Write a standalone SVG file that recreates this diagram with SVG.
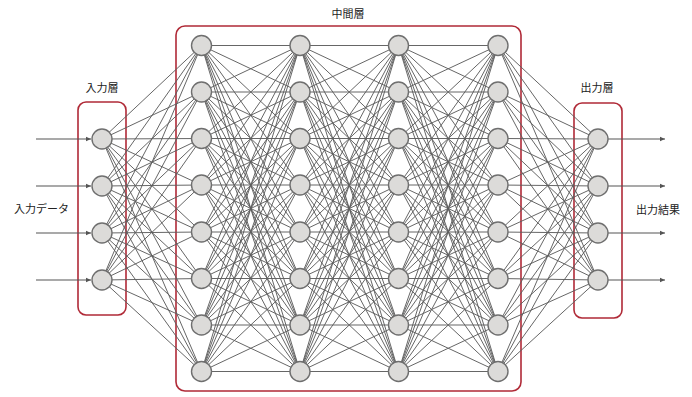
<svg xmlns="http://www.w3.org/2000/svg" width="692" height="397" viewBox="0 0 692 397">
<defs>
<marker id="arr" markerWidth="6" markerHeight="6" refX="5" refY="3" orient="auto" markerUnits="userSpaceOnUse"><path d="M0,0.8 L5,3 L0,5.2 Z" fill="#555"/></marker>
</defs>
<style>
.box{fill:none;stroke:#b02a37;stroke-width:1.6}
.n{fill:#dcdbd9;stroke:#6f6f6f;stroke-width:1.4}
.c{fill:none;stroke:#5e5e5e;stroke-width:0.95}
.io{fill:none;stroke:#555;stroke-width:1.1;marker-end:url(#arr)}
.t{font-family:"Noto Sans CJK JP","Noto Sans",sans-serif;font-size:11px;fill:#222}
</style>
<rect width="692" height="397" fill="#fff"/>
<g id="boxes">
<rect class="box" x="78" y="102" width="48" height="213" rx="8"/>
<rect class="box" x="176" y="26" width="345" height="365" rx="9"/>
<rect class="box" x="574" y="103" width="48" height="215" rx="8"/>
</g>
<g id="connectors">
<path class="c" d="M102 139L201.5 45.5M102 139L201.5 92M102 139L201.5 138.5M102 139L201.5 185M102 139L201.5 232M102 139L201.5 278.5M102 139L201.5 325M102 139L201.5 371.5
M102 186L201.5 45.5M102 186L201.5 92M102 186L201.5 138.5M102 186L201.5 185M102 186L201.5 232M102 186L201.5 278.5M102 186L201.5 325M102 186L201.5 371.5
M102 233L201.5 45.5M102 233L201.5 92M102 233L201.5 138.5M102 233L201.5 185M102 233L201.5 232M102 233L201.5 278.5M102 233L201.5 325M102 233L201.5 371.5
M102 280L201.5 45.5M102 280L201.5 92M102 280L201.5 138.5M102 280L201.5 185M102 280L201.5 232M102 280L201.5 278.5M102 280L201.5 325M102 280L201.5 371.5"/>
<path class="c" d="M201.5 45.5L300 45.5M201.5 45.5L300 92M201.5 45.5L300 138.5M201.5 45.5L300 185M201.5 45.5L300 232M201.5 45.5L300 278.5M201.5 45.5L300 325M201.5 45.5L300 371.5
M201.5 92L300 45.5M201.5 92L300 92M201.5 92L300 138.5M201.5 92L300 185M201.5 92L300 232M201.5 92L300 278.5M201.5 92L300 325M201.5 92L300 371.5
M201.5 138.5L300 45.5M201.5 138.5L300 92M201.5 138.5L300 138.5M201.5 138.5L300 185M201.5 138.5L300 232M201.5 138.5L300 278.5M201.5 138.5L300 325M201.5 138.5L300 371.5
M201.5 185L300 45.5M201.5 185L300 92M201.5 185L300 138.5M201.5 185L300 185M201.5 185L300 232M201.5 185L300 278.5M201.5 185L300 325M201.5 185L300 371.5
M201.5 232L300 45.5M201.5 232L300 92M201.5 232L300 138.5M201.5 232L300 185M201.5 232L300 232M201.5 232L300 278.5M201.5 232L300 325M201.5 232L300 371.5
M201.5 278.5L300 45.5M201.5 278.5L300 92M201.5 278.5L300 138.5M201.5 278.5L300 185M201.5 278.5L300 232M201.5 278.5L300 278.5M201.5 278.5L300 325M201.5 278.5L300 371.5
M201.5 325L300 45.5M201.5 325L300 92M201.5 325L300 138.5M201.5 325L300 185M201.5 325L300 232M201.5 325L300 278.5M201.5 325L300 325M201.5 325L300 371.5
M201.5 371.5L300 45.5M201.5 371.5L300 92M201.5 371.5L300 138.5M201.5 371.5L300 185M201.5 371.5L300 232M201.5 371.5L300 278.5M201.5 371.5L300 325M201.5 371.5L300 371.5"/>
<path class="c" d="M300 45.5L398.5 45.5M300 45.5L398.5 92M300 45.5L398.5 138.5M300 45.5L398.5 185M300 45.5L398.5 232M300 45.5L398.5 278.5M300 45.5L398.5 325M300 45.5L398.5 371.5
M300 92L398.5 45.5M300 92L398.5 92M300 92L398.5 138.5M300 92L398.5 185M300 92L398.5 232M300 92L398.5 278.5M300 92L398.5 325M300 92L398.5 371.5
M300 138.5L398.5 45.5M300 138.5L398.5 92M300 138.5L398.5 138.5M300 138.5L398.5 185M300 138.5L398.5 232M300 138.5L398.5 278.5M300 138.5L398.5 325M300 138.5L398.5 371.5
M300 185L398.5 45.5M300 185L398.5 92M300 185L398.5 138.5M300 185L398.5 185M300 185L398.5 232M300 185L398.5 278.5M300 185L398.5 325M300 185L398.5 371.5
M300 232L398.5 45.5M300 232L398.5 92M300 232L398.5 138.5M300 232L398.5 185M300 232L398.5 232M300 232L398.5 278.5M300 232L398.5 325M300 232L398.5 371.5
M300 278.5L398.5 45.5M300 278.5L398.5 92M300 278.5L398.5 138.5M300 278.5L398.5 185M300 278.5L398.5 232M300 278.5L398.5 278.5M300 278.5L398.5 325M300 278.5L398.5 371.5
M300 325L398.5 45.5M300 325L398.5 92M300 325L398.5 138.5M300 325L398.5 185M300 325L398.5 232M300 325L398.5 278.5M300 325L398.5 325M300 325L398.5 371.5
M300 371.5L398.5 45.5M300 371.5L398.5 92M300 371.5L398.5 138.5M300 371.5L398.5 185M300 371.5L398.5 232M300 371.5L398.5 278.5M300 371.5L398.5 325M300 371.5L398.5 371.5"/>
<path class="c" d="M398.5 45.5L498 45.5M398.5 45.5L498 92M398.5 45.5L498 138.5M398.5 45.5L498 185M398.5 45.5L498 232M398.5 45.5L498 278.5M398.5 45.5L498 325M398.5 45.5L498 371.5
M398.5 92L498 45.5M398.5 92L498 92M398.5 92L498 138.5M398.5 92L498 185M398.5 92L498 232M398.5 92L498 278.5M398.5 92L498 325M398.5 92L498 371.5
M398.5 138.5L498 45.5M398.5 138.5L498 92M398.5 138.5L498 138.5M398.5 138.5L498 185M398.5 138.5L498 232M398.5 138.5L498 278.5M398.5 138.5L498 325M398.5 138.5L498 371.5
M398.5 185L498 45.5M398.5 185L498 92M398.5 185L498 138.5M398.5 185L498 185M398.5 185L498 232M398.5 185L498 278.5M398.5 185L498 325M398.5 185L498 371.5
M398.5 232L498 45.5M398.5 232L498 92M398.5 232L498 138.5M398.5 232L498 185M398.5 232L498 232M398.5 232L498 278.5M398.5 232L498 325M398.5 232L498 371.5
M398.5 278.5L498 45.5M398.5 278.5L498 92M398.5 278.5L498 138.5M398.5 278.5L498 185M398.5 278.5L498 232M398.5 278.5L498 278.5M398.5 278.5L498 325M398.5 278.5L498 371.5
M398.5 325L498 45.5M398.5 325L498 92M398.5 325L498 138.5M398.5 325L498 185M398.5 325L498 232M398.5 325L498 278.5M398.5 325L498 325M398.5 325L498 371.5
M398.5 371.5L498 45.5M398.5 371.5L498 92M398.5 371.5L498 138.5M398.5 371.5L498 185M398.5 371.5L498 232M398.5 371.5L498 278.5M398.5 371.5L498 325M398.5 371.5L498 371.5"/>
<path class="c" d="M498 45.5L598 139M498 45.5L598 186M498 45.5L598 233M498 45.5L598 280
M498 92L598 139M498 92L598 186M498 92L598 233M498 92L598 280
M498 138.5L598 139M498 138.5L598 186M498 138.5L598 233M498 138.5L598 280
M498 185L598 139M498 185L598 186M498 185L598 233M498 185L598 280
M498 232L598 139M498 232L598 186M498 232L598 233M498 232L598 280
M498 278.5L598 139M498 278.5L598 186M498 278.5L598 233M498 278.5L598 280
M498 325L598 139M498 325L598 186M498 325L598 233M498 325L598 280
M498 371.5L598 139M498 371.5L598 186M498 371.5L598 233M498 371.5L598 280"/>
<path class="io" d="M36 139H91"/>
<path class="io" d="M36 186H91"/>
<path class="io" d="M36 233H91"/>
<path class="io" d="M36 280H91"/>
<path class="io" d="M608 139H665"/>
<path class="io" d="M608 186H665"/>
<path class="io" d="M608 233H665"/>
<path class="io" d="M608 280H665"/>
</g>
<g id="input-layer">
<g id="in1"><circle class="n" cx="102" cy="139" r="10"/></g>
<g id="in2"><circle class="n" cx="102" cy="186" r="10"/></g>
<g id="in3"><circle class="n" cx="102" cy="233" r="10"/></g>
<g id="in4"><circle class="n" cx="102" cy="280" r="10"/></g>
</g>
<g id="hidden-1">
<g id="h1-1"><circle class="n" cx="201.5" cy="45.5" r="10"/></g>
<g id="h1-2"><circle class="n" cx="201.5" cy="92" r="10"/></g>
<g id="h1-3"><circle class="n" cx="201.5" cy="138.5" r="10"/></g>
<g id="h1-4"><circle class="n" cx="201.5" cy="185" r="10"/></g>
<g id="h1-5"><circle class="n" cx="201.5" cy="232" r="10"/></g>
<g id="h1-6"><circle class="n" cx="201.5" cy="278.5" r="10"/></g>
<g id="h1-7"><circle class="n" cx="201.5" cy="325" r="10"/></g>
<g id="h1-8"><circle class="n" cx="201.5" cy="371.5" r="10"/></g>
</g>
<g id="hidden-2">
<g id="h2-1"><circle class="n" cx="300" cy="45.5" r="10"/></g>
<g id="h2-2"><circle class="n" cx="300" cy="92" r="10"/></g>
<g id="h2-3"><circle class="n" cx="300" cy="138.5" r="10"/></g>
<g id="h2-4"><circle class="n" cx="300" cy="185" r="10"/></g>
<g id="h2-5"><circle class="n" cx="300" cy="232" r="10"/></g>
<g id="h2-6"><circle class="n" cx="300" cy="278.5" r="10"/></g>
<g id="h2-7"><circle class="n" cx="300" cy="325" r="10"/></g>
<g id="h2-8"><circle class="n" cx="300" cy="371.5" r="10"/></g>
</g>
<g id="hidden-3">
<g id="h3-1"><circle class="n" cx="398.5" cy="45.5" r="10"/></g>
<g id="h3-2"><circle class="n" cx="398.5" cy="92" r="10"/></g>
<g id="h3-3"><circle class="n" cx="398.5" cy="138.5" r="10"/></g>
<g id="h3-4"><circle class="n" cx="398.5" cy="185" r="10"/></g>
<g id="h3-5"><circle class="n" cx="398.5" cy="232" r="10"/></g>
<g id="h3-6"><circle class="n" cx="398.5" cy="278.5" r="10"/></g>
<g id="h3-7"><circle class="n" cx="398.5" cy="325" r="10"/></g>
<g id="h3-8"><circle class="n" cx="398.5" cy="371.5" r="10"/></g>
</g>
<g id="hidden-4">
<g id="h4-1"><circle class="n" cx="498" cy="45.5" r="10"/></g>
<g id="h4-2"><circle class="n" cx="498" cy="92" r="10"/></g>
<g id="h4-3"><circle class="n" cx="498" cy="138.5" r="10"/></g>
<g id="h4-4"><circle class="n" cx="498" cy="185" r="10"/></g>
<g id="h4-5"><circle class="n" cx="498" cy="232" r="10"/></g>
<g id="h4-6"><circle class="n" cx="498" cy="278.5" r="10"/></g>
<g id="h4-7"><circle class="n" cx="498" cy="325" r="10"/></g>
<g id="h4-8"><circle class="n" cx="498" cy="371.5" r="10"/></g>
</g>
<g id="output-layer">
<g id="out1"><circle class="n" cx="598" cy="139" r="10"/></g>
<g id="out2"><circle class="n" cx="598" cy="186" r="10"/></g>
<g id="out3"><circle class="n" cx="598" cy="233" r="10"/></g>
<g id="out4"><circle class="n" cx="598" cy="280" r="10"/></g>
</g>
<g id="labels">
<text class="t" x="102" y="92" text-anchor="middle">入力層</text>
<text class="t" x="348" y="18" text-anchor="middle">中間層</text>
<text class="t" x="597" y="92" text-anchor="middle">出力層</text>
<text class="t" x="14" y="213">入力データ</text>
<text class="t" x="636" y="214">出力結果</text>
</g>
</svg>
